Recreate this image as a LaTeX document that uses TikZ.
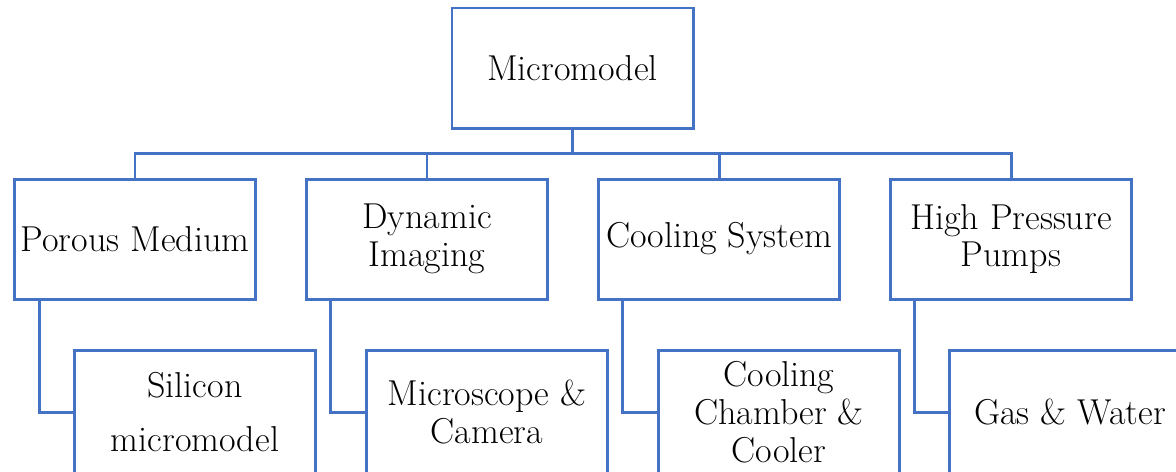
\documentclass[tikz,border=0pt]{standalone}
\usetikzlibrary{positioning}

\definecolor{boxblue}{RGB}{68,114,196}

\begin{document}
\begin{tikzpicture}[
        x=0.02cm, y=-0.02cm,
        font=\fontsize{20.5}{21.5}\selectfont,
        box/.style={draw=boxblue, line width=1.7pt, align=center,
                    minimum width=241*0.02cm, minimum height=120*0.02cm,
                    inner sep=0pt},
        link/.style={draw=boxblue, line width=1.7pt}
      ]
        \useasboundingbox (0,0) rectangle (1176,471);
        \clip (0,0) rectangle (1176,471);

        \node[box] (micromodel) at (572.5,68) {Micromodel};

        \node[box] (porous)  at (135,239)  {Porous Medium};
        \node[box] (imaging) at (427,239)  {Dynamic\\Imaging};
        \node[box] (cooling) at (719,239)  {Cooling System};
        \node[box] (pumps)   at (1011,239) {High Pressure\\Pumps};

        \node[box, minimum height=124*0.02cm] (silicon)  at (195,412)
          {Silicon\\[9pt]micromodel};
        \node[box, minimum height=124*0.02cm] (camera)   at (487,412)
          {Microscope \&\\Camera};
        \node[box, minimum height=124*0.02cm] (chamber)  at (779,412)
          {Cooling\\Chamber \&\\Cooler};
        \node[box, minimum height=124*0.02cm] (gaswater) at (1070,412)
          {Gas \& Water};

        \foreach \n in {porous, imaging, cooling, pumps}
          \draw[link] (micromodel.south) -- ++(0,24) -| (\n.north);

        \draw[link] (porous.south west)  ++(26,0) |- (silicon.west);
        \draw[link] (imaging.south west) ++(25,0) |- (camera.west);
        \draw[link] (cooling.south west) ++(25,0) |- (chamber.west);
        \draw[link] (pumps.south west)   ++(25,0) |- (gaswater.west);
      \end{tikzpicture}
\end{document}
